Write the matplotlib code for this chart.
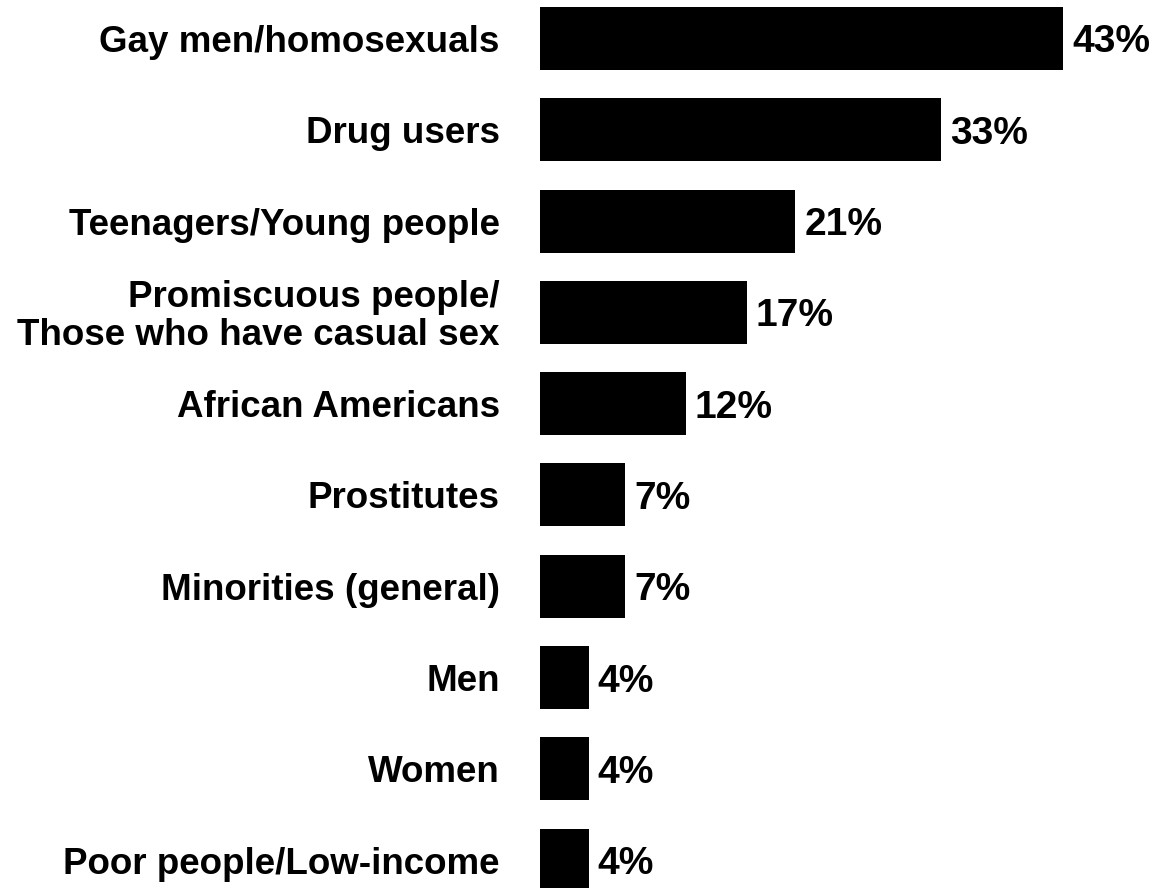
import matplotlib
matplotlib.use('Agg')
import matplotlib.pyplot as plt

groups = [
    'Gay men/homosexuals',
    'Drug users',
    'Teenagers/Young people',
    'Promiscuous people/\nThose who have casual sex',
    'African Americans',
    'Prostitutes',
    'Minorities (general)',
    'Men',
    'Women',
    'Poor people/Low-income',
]
percent = [43, 33, 21, 17, 12, 7, 7, 4, 4, 4]


def main():
    plt.rcParams['font.family'] = ['Liberation Sans', 'DejaVu Sans']
    plt.rcParams['font.weight'] = 'bold'

    W, H, dpi = 1153, 888, 100
    fig = plt.figure(figsize=(W / dpi, H / dpi), dpi=dpi)
    # axes starts where bars start; 12.16 px per percent
    ax_w = 613
    ax = fig.add_axes([540 / W, 0, ax_w / W, 1])

    pitch = 91.3
    first = 38.5
    ypos = list(range(len(groups)))
    ax.barh(ypos, percent, height=63 / pitch, color='black', edgecolor='none')
    ax.set_xlim(0, ax_w / 12.16)
    ax.set_ylim((H - first) / pitch, -first / pitch)

    for y, v, name in zip(ypos, percent, groups):
        ax.annotate(f'{v}%', (v, y), xytext=(6.5, 0), textcoords='offset points',
                    va='center_baseline', ha='left', fontsize=28, fontweight='bold')
        two_lines = '\n' in name
        ax.annotate(name, (0, y), xytext=(-29, -3 if two_lines else 0),
                    textcoords='offset points',
                    va='center' if two_lines else 'center_baseline',
                    ha='right', fontsize=26.5, fontweight='bold', linespacing=1.12)

    ax.set_xticks([])
    ax.set_yticks([])
    for s in ax.spines.values():
        s.set_visible(False)

    fig.savefig('out.png', dpi=dpi)


if __name__ == '__main__':
    main()
